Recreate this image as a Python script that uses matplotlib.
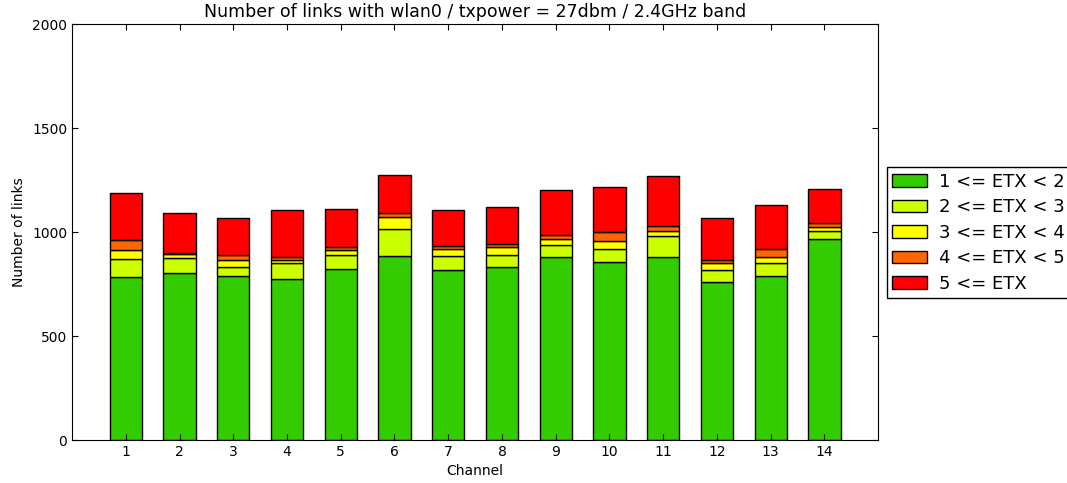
import matplotlib
matplotlib.use("Agg")
import matplotlib.pyplot as plt
import numpy as np

channels = [1, 2, 3, 4, 5, 6, 7, 8, 9, 10, 11, 12, 13, 14]
etx_1_2 = [782, 801, 787, 774, 824, 886, 820, 833, 881, 854, 878, 761, 790, 965]
etx_2_3 = [87, 74, 46, 75, 65, 128, 66, 58, 55, 66, 103, 59, 63, 40]
etx_3_4 = [43, 18, 34, 16, 24, 60, 31, 35, 29, 35, 25, 29, 28, 21]
etx_4_5 = [50, 7, 24, 16, 16, 19, 16, 15, 22, 45, 23, 16, 36, 16]
etx_5_up = [224, 193, 176, 225, 180, 181, 171, 179, 213, 218, 239, 202, 214, 166]

labels = ["1 <= ETX < 2", "2 <= ETX < 3", "3 <= ETX < 4", "4 <= ETX < 5", "5 <= ETX"]
colors = ["#33cc00", "#ccff00", "#ffff00", "#ff6600", "#ff0000"]
series = [etx_1_2, etx_2_3, etx_3_4, etx_4_5, etx_5_up]

fig = plt.figure(figsize=(10.67, 4.83), dpi=100)
ax = fig.add_axes([0.0675, 0.089, 0.7555, 0.861])

bottom = np.zeros(len(channels))
for vals, lab, col in zip(series, labels, colors):
    ax.bar(channels, vals, width=0.6, bottom=bottom, color=col,
           edgecolor="black", linewidth=1.0, label=lab, align="center")
    bottom += np.array(vals)

ax.set_xlim(0, 15)
ax.set_ylim(0, 2000)
ax.set_xticks(channels)
ax.set_yticks([0, 500, 1000, 1500, 2000])
ax.tick_params(direction="in", top=True, right=True, length=4, labelsize=10)
ax.set_xlabel("Channel", fontsize=10)
ax.set_ylabel("Number of links", fontsize=10)
ax.set_title("Number of links with wlan0 / txpower = 27dbm / 2.4GHz band",
             fontsize=12.5, pad=5)

leg = ax.legend(loc="upper left", bbox_to_anchor=(1.011, 0.656), fontsize=13,
                fancybox=False, framealpha=1.0, edgecolor="black",
                borderaxespad=0.0, handlelength=1.9, handletextpad=0.7,
                labelspacing=0.42, borderpad=0.3)
leg.get_frame().set_linewidth(1.0)

fig.savefig("out.png", dpi=100)
